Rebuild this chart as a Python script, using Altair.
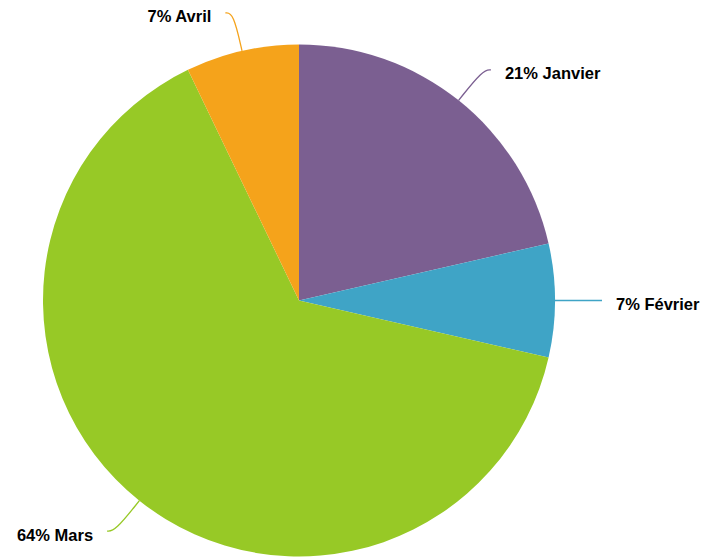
import math
import altair as alt
import pandas as pd

months = ["Janvier", "Février", "Mars", "Avril"]
values = [3, 1, 9, 1]
colors = ["#7B5F91", "#3FA4C6", "#97C926", "#F5A31B"]

W, H = 693, 551
CX, CY = 291, 292.5
R = 256

total = sum(values)
rows, line_rows = [], []
cum = 0
for i, (m, v) in enumerate(zip(months, values)):
    mid = (cum + v / 2) / total * 2 * math.pi
    cum += v
    pct = round(v / total * 100)
    s, c = math.sin(mid), math.cos(mid)
    side = 1 if s >= 0 else -1
    p0 = (CX + R * s, CY - R * c)
    p1 = (CX + (R + 39) * s, CY - (R + 39) * c)
    p2 = (p1[0] + 8 * side, p1[1])
    for k, p in enumerate([p0, p1, p2]):
        line_rows.append({"month": m, "order": k, "x": p[0], "y": p[1]})
    rows.append({
        "month": m, "value": v, "order": i,
        "label": f"{pct}% {m}",
        "tx": p2[0] + 14 * side, "ty": p2[1] + 9.5,
        "align": "left" if side > 0 else "right",
    })

df = pd.DataFrame(rows)
lines = pd.DataFrame(line_rows)

color = alt.Color("month:N", scale=alt.Scale(domain=months, range=colors), legend=None)
xs = alt.Scale(domain=[0, W], range=[0, W], nice=False, zero=False)
ys = alt.Scale(domain=[0, H], range=[0, H], nice=False, zero=False)

pie = alt.Chart(df).mark_arc(outerRadius=R, stroke=None).encode(
    theta=alt.Theta("value:Q", stack=True),
    order=alt.Order("order:Q"),
    color=color,
    x=alt.value(CX), y=alt.value(CY),
)

leader = alt.Chart(lines).mark_line(interpolate="basis", strokeWidth=1.3).encode(
    x=alt.X("x:Q", scale=xs, axis=None),
    y=alt.Y("y:Q", scale=ys, axis=None),
    detail="month:N",
    order="order:Q",
    color=color,
)

txt_left = alt.Chart(df[df["align"] == "left"]).mark_text(
    align="left", baseline="alphabetic", fontSize=16.5, fontWeight="bold",
    font="Liberation Sans", color="#000000",
).encode(x=alt.X("tx:Q", scale=xs, axis=None), y=alt.Y("ty:Q", scale=ys, axis=None), text="label:N")

txt_right = alt.Chart(df[df["align"] == "right"]).mark_text(
    align="right", baseline="alphabetic", fontSize=16.5, fontWeight="bold",
    font="Liberation Sans", color="#000000",
).encode(x=alt.X("tx:Q", scale=xs, axis=None), y=alt.Y("ty:Q", scale=ys, axis=None), text="label:N")

chart = alt.layer(pie, leader, txt_left, txt_right).properties(
    width=W, height=H, padding=0, autosize=alt.AutoSizeParams(type="none"),
).configure_view(stroke=None)

chart.save("out.html", embed_options={"renderer": "svg", "actions": False})
